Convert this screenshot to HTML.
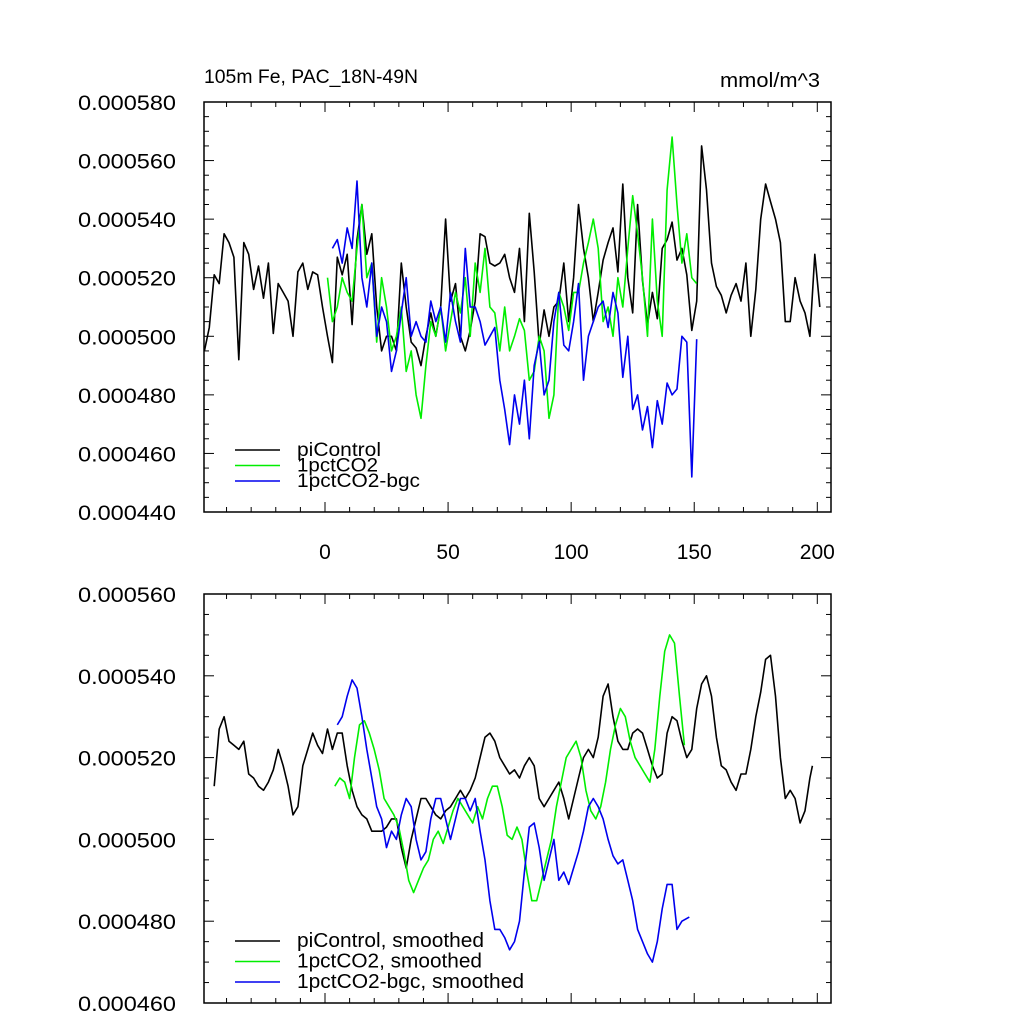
<!DOCTYPE html>
<html><head><meta charset="utf-8"><style>
body{margin:0;background:#fff}
svg{display:block;font-family:"Liberation Sans",sans-serif}
</style></head><body>
<svg id="chart" width="1024" height="1024" xmlns="http://www.w3.org/2000/svg"></svg>
<script>
const topYears=[-49,-47,-45,-43,-41,-39,-37,-35,-33,-31,-29,-27,-25,-23,-21,-19,-17,-15,-13,-11,-9,-7,-5,-3,-1,1,3,5,7,9,11,13,15,17,19,21,23,25,27,29,31,33,35,37,39,41,43,45,47,49,51,53,55,57,59,61,63,65,67,69,71,73,75,77,79,81,83,85,87,89,91,93,95,97,99,101,103,105,107,109,111,113,115,117,119,121,123,125,127,129,131,133,135,137,139,141,143,145,147,149,151,153,155,157,159,161,163,165,167,169,171,173,175,177,179,181,183,185,187,189,191,193,195,197,199,201];
const piControl=[495,503,521,518,535,532,527,492,532,528,516,524,513,525,501,518,515,512,500,522,525,516,522,521,510,500,491,527,521,528,504,533,545,528,535,510,495,500,500,495,525,510,498,496,490,500,508,500,510,540,512,518,500,495,502,512,535,534,525,524,525,528,520,515,530,505,542,522,497,509,500,510,512,525,505,520,545,530,520,505,515,526,532,537,522,552,520,508,545,519,504,515,506,530,533,539,526,530,521,502,512,565,550,525,517,514,508,514,518,512,525,500,516,540,552,546,540,532,505,505,520,512,508,500,528,510];
const co2Years=[1,3,5,7,9,11,13,15,17,19,21,23,25,27,29,31,33,35,37,39,41,43,45,47,49,51,53,55,57,59,61,63,65,67,69,71,73,75,77,79,81,83,85,87,89,91,93,95,97,99,101,103,105,107,109,111,113,115,117,119,121,123,125,127,129,131,133,135,137,139,141,143,145,147,149,151];
const pct=[520,505,510,520,515,512,530,545,520,525,498,520,510,495,500,510,488,495,480,472,490,505,500,510,495,505,515,508,520,500,525,515,530,510,508,495,510,495,500,506,502,485,488,500,495,472,480,515,510,502,515,515,525,532,540,530,505,510,500,520,510,530,548,535,520,500,540,512,500,550,568,545,525,535,520,518];
const bgcYears=[3,5,7,9,11,13,15,17,19,21,23,25,27,29,31,33,35,37,39,41,43,45,47,49,51,53,55,57,59,61,63,65,67,69,71,73,75,77,79,81,83,85,87,89,91,93,95,97,99,101,103,105,107,109,111,113,115,117,119,121,123,125,127,129,131,133,135,137,139,141,143,145,147,149,151];
const bgc=[530,533,525,537,530,553,520,510,525,500,510,505,488,495,508,520,500,505,500,498,512,505,510,498,515,505,498,530,510,510,505,497,500,503,485,475,463,480,470,485,465,490,498,480,485,505,515,497,495,505,518,485,500,505,510,512,503,515,508,486,500,475,480,468,476,462,478,470,484,480,482,500,498,452,499];
const smPiYears=[-45,-43,-41,-39,-37,-35,-33,-31,-29,-27,-25,-23,-21,-19,-17,-15,-13,-11,-9,-7,-5,-3,-1,1,3,5,7,9,11,13,15,17,19,21,23,25,27,29,31,33,35,37,39,41,43,45,47,49,51,53,55,57,59,61,63,65,67,69,71,73,75,77,79,81,83,85,87,89,91,93,95,97,99,101,103,105,107,109,111,113,115,117,119,121,123,125,127,129,131,133,135,137,139,141,143,145,147,149,151,153,155,157,159,161,163,165,167,169,171,173,175,177,179,181,183,185,187,189,191,193,195,197,198];
const smPi=[513,527,530,524,523,522,524,516,515,513,512,514,517,522,518,513,506,508,518,522,526,523,521,527,522,526,526,518,512,508,506,505,502,502,502,503,505,505,498,493,500,505,510,510,508,506,505,507,508,510,512,510,512,515,520,525,526,524,520,518,516,517,515,518,520,518,510,508,510,512,514,510,505,510,515,520,522,520,525,535,538,530,524,522,522,526,527,526,522,518,515,516,526,530,529,524,520,522,532,538,540,535,525,518,517,514,512,516,516,522,530,536,544,545,535,520,510,512,510,504,507,515,518];
const smPctYears=[4,6,8,10,12,14,16,18,20,22,24,26,28,30,32,34,36,38,40,42,44,46,48,50,52,54,56,58,60,62,64,66,68,70,72,74,76,78,80,82,84,86,88,90,92,94,96,98,100,102,104,106,108,110,112,114,116,118,120,122,124,126,128,130,132,134,136,138,140,142,144,146];
const smPct=[513,515,514,510,520,528,529,526,522,517,510,508,506,503,497,490,487,490,493,495,500,502,499,503,507,510,508,506,504,508,505,510,513,513,508,501,500,503,500,492,485,485,490,495,500,508,514,520,522,524,520,512,507,505,508,514,522,528,532,530,524,520,518,516,514,522,535,546,550,548,535,523];
const smBgcYears=[5,7,9,11,13,15,17,19,21,23,25,27,29,31,33,35,37,39,41,43,45,47,49,51,53,55,57,59,61,63,65,67,69,71,73,75,77,79,81,83,85,87,89,91,93,95,97,99,101,103,105,107,109,111,113,115,117,119,121,123,125,127,129,131,133,135,137,139,141,143,145,148];
const smBgc=[528,530,535,539,537,530,522,515,508,505,498,502,500,506,510,508,500,495,497,505,510,510,505,500,505,510,510,507,510,502,495,485,478,478,476,473,475,480,492,503,504,498,490,495,500,490,492,489,493,497,502,508,510,508,505,500,496,494,495,490,485,478,475,472,470,475,483,489,489,478,480,481];
const topTicks=["0.000440","0.000460","0.000480","0.000500","0.000520","0.000540","0.000560","0.000580"];
const botTicks=["0.000460","0.000480","0.000500","0.000520","0.000540","0.000560"];
const xTicks=[0,50,100,150,200];

const svg=document.getElementById('chart');
const NS='http://www.w3.org/2000/svg';
function mk(tag,attrs,parent){const e=document.createElementNS(NS,tag);for(const k in attrs)e.setAttribute(k,attrs[k]);(parent||svg).appendChild(e);return e;}
const X0=204,X1=831;
const xs=v=>325+(v)*2.4615;
function panel(name,top,bot,vmin,vmax,ticks,labelsX,series,legend,legY){
  const g=mk('g',{});
  
  
  const ys=v=>bot-(v-vmin)/(vmax-vmin)*(bot-top);
  series.forEach(s=>{
    const p=mk('polyline',{fill:'none',stroke:s.c,'stroke-width':1.6,'stroke-linejoin':'round',points:s.x.map((x,i)=>xs(x).toFixed(1)+','+ys(s.y[i]/1e6).toFixed(1)).join(' ')},g);
    
    
  });
  const fr=mk('rect',{x:X0,y:top,width:X1-X0,height:bot-top,fill:'none',stroke:'#000','stroke-width':1.5},g);
  
  
  const step=(vmax-vmin)/(ticks.length-1);
  for(let v=vmin;v<=vmax+1e-12;v+=step/4){
    const y=ys(v);const major=Math.abs(((v-vmin)/step)-Math.round((v-vmin)/step))<1e-6;
    const L=major?10:5;
    mk('line',{x1:X0,x2:X0+L,y1:y,y2:y,stroke:'#000','stroke-width':1},g);
    mk('line',{x1:X1,x2:X1-L,y1:y,y2:y,stroke:'#000','stroke-width':1},g);
  }
  ticks.forEach((t,i)=>{
    const tx=mk('text',{x:176,y:ys(vmin+i*step)+8,'text-anchor':'end','font-size':21,textLength:98,lengthAdjust:'spacingAndGlyphs'},g);
    tx.textContent=t;
    
    
  });
  for(let v=-40;v<=200;v+=10){
    const x=xs(v);const L=v%50===0?10:5;
    mk('line',{x1:x,x2:x,y1:bot,y2:bot-L,stroke:'#000','stroke-width':1},g);
    mk('line',{x1:x,x2:x,y1:top,y2:top+L,stroke:'#000','stroke-width':1},g);
  }
  if(labelsX){xTicks.forEach(t=>{
    const tx=mk('text',{x:xs(t),y:bot+47,'text-anchor':'middle','font-size':21},g);
    tx.textContent=t;
    
    
  });}
  legend.forEach((l,i)=>{
    const y=legY+i*l.dy;
    const ln=mk('line',{x1:235,x2:280,y1:y,y2:y,stroke:l.c,'stroke-width':1.6},g);
    
    
    const tx=mk('text',{x:297,y:y+6,'font-size':l.fs,textLength:l.w,lengthAdjust:'spacingAndGlyphs'},g);
    tx.textContent=l.t;
    
    
  });
}
panel('top-panel',102,512,0.000440,0.000580,topTicks,true,[
 {n:'piControl-line',c:'#000',x:topYears,y:piControl},
 {n:'1pctCO2-line',c:'#00ee00',x:co2Years,y:pct},
 {n:'1pctCO2-bgc-line',c:'#0000ee',x:bgcYears,y:bgc}],
 [{c:'#000',t:'piControl',dy:15.5,fs:19,w:84},{c:'#00ee00',t:'1pctCO2',dy:15.5,fs:19,w:81},{c:'#0000ee',t:'1pctCO2-bgc',dy:15.5,fs:19,w:123}],450);
panel('bottom-panel',594,1003,0.000460,0.000560,botTicks,false,[
 {n:'piControl-smoothed-line',c:'#000',x:smPiYears,y:smPi},
 {n:'1pctCO2-smoothed-line',c:'#00ee00',x:smPctYears,y:smPct},
 {n:'1pctCO2-bgc-smoothed-line',c:'#0000ee',x:smBgcYears,y:smBgc}],
 [{c:'#000',t:'piControl, smoothed',dy:20.5,fs:20,w:187},{c:'#00ee00',t:'1pctCO2, smoothed',dy:20.5,fs:20,w:185},{c:'#0000ee',t:'1pctCO2-bgc, smoothed',dy:20.5,fs:20,w:227}],941);
const t1=mk('text',{x:204,y:83,'font-size':19,textLength:214,lengthAdjust:'spacingAndGlyphs'});t1.textContent='105m Fe, PAC_18N-49N';


const t2=mk('text',{x:720,y:87,'font-size':20,textLength:100,lengthAdjust:'spacingAndGlyphs'});t2.textContent='mmol/m^3';


</script>
</body></html>
